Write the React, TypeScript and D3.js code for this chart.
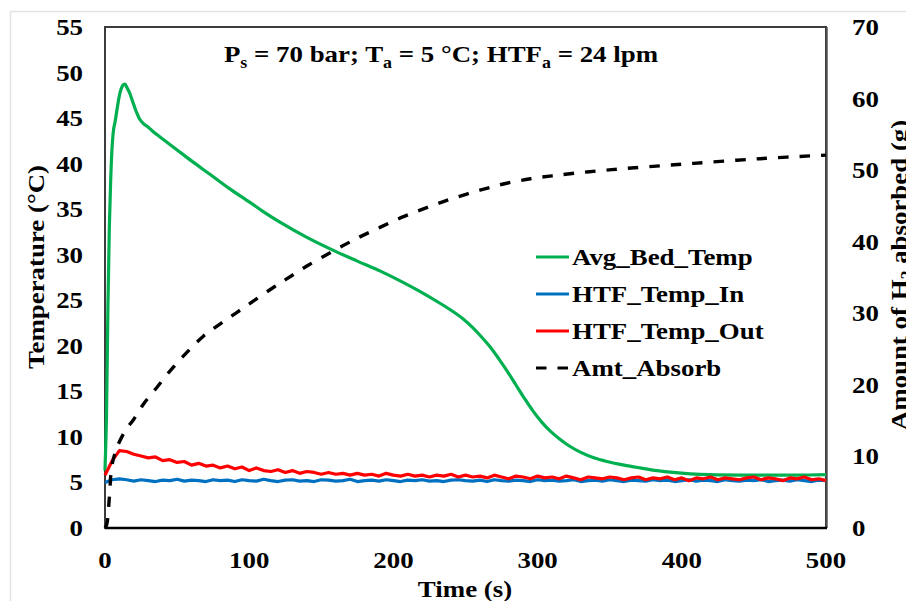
import React from 'react';
import * as d3 from 'd3';

const W = 906;
const H = 601;

// Axis ticks
const TEMP_TICKS = [0, 5, 10, 15, 20, 25, 30, 35, 40, 45, 50, 55];
const AMT_TICKS = [0, 10, 20, 30, 40, 50, 60, 70];
const TIME_TICKS = [0, 100, 200, 300, 400, 500];

// Average bed temperature (°C) vs time (s)
const bedTime = [
  0, 1, 2, 3, 4, 5, 6, 7, 8, 9,
  10, 11, 12, 13, 14, 15, 17, 19, 21, 22,
  24, 26.6, 30, 33.5, 40, 50, 60, 73, 85, 100,
  110, 121, 140, 158, 175, 191, 205, 218, 232, 240,
  248, 255, 261, 267, 273, 279, 285, 291, 297, 303,
  309, 315, 322, 330, 339, 348, 360, 371, 383, 394,
  406, 420, 440, 460, 480, 500,
];
const bedTemp = [
  6.3, 12, 24, 33, 38.5, 42, 43.8, 44.6, 45.6, 46.6,
  47.5, 48.1, 48.5, 48.7, 48.7, 48.4, 47.8, 46.9, 46.0, 45.6,
  44.9, 44.4, 44.0, 43.5, 42.7, 41.5, 40.3, 38.8, 37.4, 35.8,
  34.7, 33.6, 31.9, 30.5, 29.3, 28.2, 27.1, 26.0, 24.7, 23.9,
  23.0, 22.0, 21.0, 19.9, 18.6, 17.2, 15.7, 14.2, 12.8, 11.6,
  10.6, 9.8, 9.0, 8.3, 7.7, 7.3, 6.9, 6.6, 6.3, 6.1,
  5.95, 5.85, 5.8, 5.8, 5.8, 5.85,
];

// Heat transfer fluid temperatures, logged every 5 s from t = 0 to 500 s
const HTF_STEP = 5;
const htfInTemp = [
  5.0, 5.3, 5.4, 5.3, 5.15, 5.3, 5.2, 5.1, 5.25, 5.2,
  5.35, 5.15, 5.25, 5.2, 5.1, 5.3, 5.2, 5.25, 5.1, 5.3,
  5.2, 5.15, 5.35, 5.2, 5.1, 5.25, 5.3, 5.15, 5.2, 5.1,
  5.3, 5.25, 5.15, 5.2, 5.35, 5.1, 5.2, 5.25, 5.15, 5.3,
  5.2, 5.1, 5.25, 5.2, 5.3, 5.15, 5.2, 5.1, 5.25, 5.3,
  5.2, 5.15, 5.25, 5.1, 5.3, 5.2, 5.15, 5.25, 5.2, 5.1,
  5.3, 5.2, 5.25, 5.15, 5.2, 5.3, 5.1, 5.2, 5.25, 5.15,
  5.3, 5.2, 5.1, 5.25, 5.2, 5.15, 5.3, 5.2, 5.25, 5.1,
  5.2, 5.3, 5.15, 5.25, 5.2, 5.1, 5.3, 5.2, 5.15, 5.25,
  5.2, 5.3, 5.1, 5.2, 5.25, 5.15, 5.3, 5.2, 5.1, 5.25,
  5.2,
];
const htfOutTemp = [
  5.8, 7.4, 8.5, 8.4, 8.1, 7.9, 7.7, 7.8, 7.4, 7.5,
  7.2, 7.3, 6.9, 7.1, 6.8, 6.9, 6.6, 6.8, 6.5, 6.7,
  6.3, 6.6, 6.3, 6.2, 6.4, 6.1, 6.3, 6.0, 6.2, 6.1,
  5.9, 6.1, 5.9, 6.0, 5.8, 6.0, 5.8, 5.9, 5.7, 6.0,
  5.8, 5.7, 5.9, 5.7, 5.8, 5.6, 5.8, 5.7, 5.9, 5.6,
  5.8, 5.6, 5.7, 5.5, 5.8, 5.6, 5.4, 5.7, 5.6, 5.4,
  5.7, 5.5, 5.6, 5.4, 5.7, 5.5, 5.3, 5.6, 5.5, 5.4,
  5.6, 5.5, 5.3, 5.5, 5.6, 5.3, 5.5, 5.4, 5.6, 5.3,
  5.5, 5.2, 5.5, 5.4, 5.6, 5.3, 5.5, 5.4, 5.3, 5.5,
  5.6, 5.3, 5.5, 5.4, 5.2, 5.5, 5.4, 5.6, 5.3, 5.4,
  5.2,
];

// Cumulative hydrogen absorbed (g) vs time (s)
const absorbTime = [
  0, 1.2, 3, 4.6, 7, 9.2, 15, 19.6, 26.6, 35.8,
  46.2, 56.6, 68.2, 79.7, 91.3, 102.8, 116.7, 126, 140, 158.3,
  175, 190.7, 207, 225, 242, 260, 277, 295, 310, 327,
  345, 362, 385, 408, 454, 500,
];
const absorbAmt = [
  0, 0.5, 4.2, 8.5, 10.5, 11.7, 13.9, 15.1, 17.3, 19.6,
  22.2, 24.5, 26.8, 28.5, 30.1, 31.7, 33.6, 34.8, 36.6, 38.7,
  40.5, 42.0, 43.5, 44.9, 46.1, 47.2, 48.1, 48.8, 49.2, 49.6,
  49.95, 50.25, 50.6, 50.95, 51.6, 52.1,
];

const SERIES_NAMES = ['Avg_Bed_Temp', 'HTF_Temp_In', 'HTF_Temp_Out', 'Amt_Absorb'];
const SERIES_COLORS = ['#00B050', '#0070C0', '#FF0000', '#000000'];

const FONT = '"Liberation Serif", "Times New Roman", serif';
const STRETCH = 1.12;
const DASH = '10.5,11';

type Pt = [number, number];

// Bold serif label, widened slightly along its own reading direction
function Label(props: {
  x: number;
  y: number;
  anchor?: 'start' | 'middle' | 'end';
  rotate?: number;
  size?: number;
  children: React.ReactNode;
}) {
  const { x, y, anchor = 'start', rotate = 0, size = 24, children } = props;
  const tf =
    `translate(${x},${y})` + (rotate ? ` rotate(${rotate})` : '') + ` scale(${STRETCH},1)`;
  return (
    <text
      transform={tf}
      textAnchor={anchor}
      fontFamily={FONT}
      fontWeight="bold"
      fontSize={size}
      fill="#000"
    >
      {children}
    </text>
  );
}

export default function App() {
  const left = 105;
  const right = 826;
  const top = 27;
  const bottom = 528;

  const x = d3.scaleLinear().domain([0, 500]).range([left, right]);
  const yT = d3.scaleLinear().domain([0, 55]).range([bottom, top]);
  const yA = d3.scaleLinear().domain([0, 70]).range([bottom, top]);

  const bedPts: Pt[] = bedTime.map((t, i) => [t, bedTemp[i]]);
  const inPts: Pt[] = htfInTemp.map((v, i) => [i * HTF_STEP, v]);
  const outPts: Pt[] = htfOutTemp.map((v, i) => [i * HTF_STEP, v]);
  const absPts: Pt[] = absorbTime.map((t, i) => [t, absorbAmt[i]]);

  const smoothT = d3
    .line<Pt>()
    .x((d) => x(d[0]))
    .y((d) => yT(d[1]))
    .curve(d3.curveCatmullRom.alpha(0.5));
  const rawT = d3
    .line<Pt>()
    .x((d) => x(d[0]))
    .y((d) => yT(d[1]));
  const smoothA = d3
    .line<Pt>()
    .x((d) => x(d[0]))
    .y((d) => yA(d[1]))
    .curve(d3.curveCatmullRom.alpha(0.5));

  const legendX0 = 536;
  const legendX1 = 569;
  const legendY = [257, 294, 331, 368];

  return (
    <svg
      width={W}
      height={H}
      viewBox={`0 0 ${W} ${H}`}
      style={{ position: 'absolute', left: 0, top: 0, background: '#fff' }}
    >
      <rect x={0} y={0} width={W} height={H} fill="#fff" />
      {/* chart panel outline */}
      <line x1={10} y1={11.5} x2={W} y2={11.5} stroke="#e3e3e3" strokeWidth={1.5} />
      <line x1={10.5} y1={11} x2={10.5} y2={H} stroke="#e3e3e3" strokeWidth={1.5} />

      {/* plot frame */}
      <rect
        x={left}
        y={top}
        width={right - left}
        height={bottom - top}
        fill="#fff"
        stroke="#3c3c3c"
        strokeWidth={2}
      />
      <line x1={right + 1} y1={top} x2={right + 1} y2={bottom} stroke="#555" strokeWidth={1.5} />
      <line x1={left} y1={bottom} x2={right + 1} y2={bottom} stroke="#000" strokeWidth={2.5} />

      {/* series */}
      <path d={smoothT(bedPts) ?? ''} fill="none" stroke={SERIES_COLORS[0]} strokeWidth={3.2} strokeLinejoin="round" />
      <path d={rawT(inPts) ?? ''} fill="none" stroke={SERIES_COLORS[1]} strokeWidth={3.2} strokeLinejoin="round" />
      <path d={rawT(outPts) ?? ''} fill="none" stroke={SERIES_COLORS[2]} strokeWidth={3.2} strokeLinejoin="round" />
      <path
        d={smoothA(absPts) ?? ''}
        fill="none"
        stroke={SERIES_COLORS[3]}
        strokeWidth={3.4}
        strokeDasharray={DASH}
      />

      {/* left axis labels */}
      {TEMP_TICKS.map((v) => (
        <Label key={'t' + v} x={83} y={yT(v) + 8} anchor="end">
          {v}
        </Label>
      ))}
      {/* right axis labels */}
      {AMT_TICKS.map((v) => (
        <Label key={'a' + v} x={852} y={yA(v) + 8} anchor="start">
          {v}
        </Label>
      ))}
      {/* bottom axis labels */}
      {TIME_TICKS.map((v) => (
        <Label key={'x' + v} x={x(v)} y={568} anchor="middle">
          {v}
        </Label>
      ))}

      {/* axis titles */}
      <Label x={465} y={597} anchor="middle">
        Time (s)
      </Label>
      <Label x={44} y={267} anchor="middle" rotate={-90}>
        Temperature (°C)
      </Label>
      <Label x={907} y={275} anchor="middle" rotate={-90}>
        Amount of H<tspan dy={5} fontSize={16}>2</tspan>
        <tspan dy={-5}>{' absorbed (g)'}</tspan>
      </Label>

      {/* title */}
      <Label x={441} y={62} anchor="middle">
        <tspan>P</tspan>
        <tspan dy={6} fontSize={16}>s</tspan>
        <tspan dy={-6}>{' = 70 bar; T'}</tspan>
        <tspan dy={6} fontSize={16}>a</tspan>
        <tspan dy={-6}>{' = 5 °C; HTF'}</tspan>
        <tspan dy={6} fontSize={16}>a</tspan>
        <tspan dy={-6}>{' = 24 lpm'}</tspan>
      </Label>

      {/* legend */}
      {SERIES_NAMES.map((name, i) => (
        <g key={name}>
          <line
            x1={legendX0}
            x2={legendX1}
            y1={legendY[i]}
            y2={legendY[i]}
            stroke={SERIES_COLORS[i]}
            strokeWidth={3.2}
            strokeDasharray={i === 3 ? DASH : undefined}
          />
          <Label x={572} y={legendY[i] + 8}>
            {name}
          </Label>
        </g>
      ))}
    </svg>
  );
}
